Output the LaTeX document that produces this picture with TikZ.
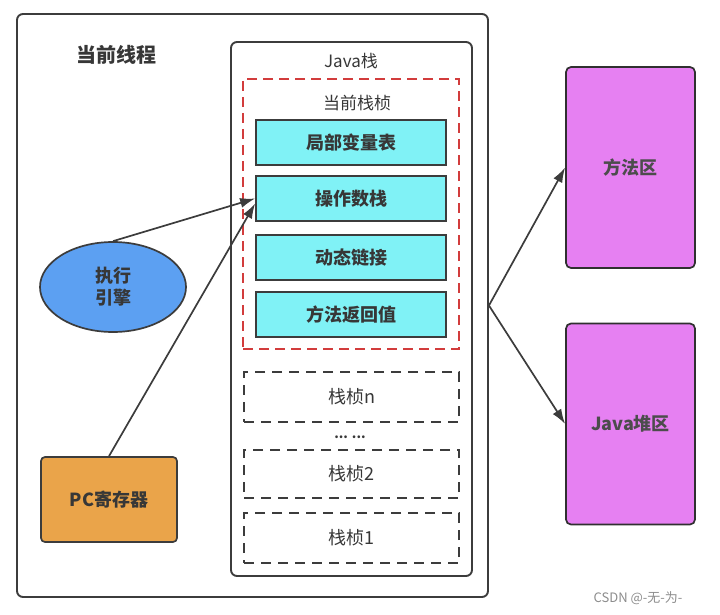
\documentclass[tikz,border=0pt]{standalone}
\usepackage{fontspec}
\setmainfont{Noto Sans CJK SC}
\usetikzlibrary{shapes.geometric,arrows.meta}
\definecolor{edge}{RGB}{60,60,60}
\definecolor{txt}{RGB}{55,55,55}
\definecolor{cyanfill}{RGB}{128,242,246}
\definecolor{bluefill}{RGB}{92,160,242}
\definecolor{orangefill}{RGB}{234,164,74}
\definecolor{magfill}{RGB}{230,128,242}
\definecolor{reddash}{RGB}{210,60,60}
\tikzset{
  frame/.style={draw=edge, line width=1.9pt, rounded corners=6pt, inner sep=0pt},
  slot/.style={draw=edge, line width=1.7pt, fill=cyanfill, minimum width=190pt, minimum height=45pt, inner sep=0pt, font=\fontsize{18}{21}\selectfont\bfseries, text=txt},
  ghost/.style={draw=edge, line width=1.8pt, dash pattern=on 10pt off 7pt, minimum width=215pt, minimum height=50pt, inner sep=0pt, font=\fontsize{18}{21}\selectfont, text=txt},
  area/.style={draw=edge!80!black, line width=1.7pt, fill=magfill, rounded corners=5pt, minimum width=129pt, minimum height=201pt, inner sep=0pt, font=\fontsize{18}{21}\selectfont\bfseries, text=black!70},
  lbl/.style={inner sep=0pt, text=txt},
  arr/.style={draw=edge, line width=1.7pt, -{Latex[length=15pt,width=10pt]}}
}
\begin{document}
\begin{tikzpicture}[x=1pt,y=-1pt]
\useasboundingbox (0,0) rectangle (720,615);
\node[frame, minimum width=471pt, minimum height=583pt] (thread) at (252.5,305.5) {};
\node[lbl, font=\fontsize{20}{23}\selectfont\bfseries] (threadlbl) at (116,55) {当前线程};
\node[frame, minimum width=241pt, minimum height=534pt] (jstack) at (351.5,309) {};
\node[lbl, font=\fontsize{17}{20}\selectfont] (jstacklbl) at (351,61) {Java栈};
\node[draw=reddash, line width=1.8pt, dash pattern=on 10pt off 6pt, minimum width=216pt, minimum height=270pt, inner sep=0pt] (cur) at (351,214) {};
\node[lbl, font=\fontsize{17}{20}\selectfont] (curlbl) at (357,103) {当前栈桢};
\node[slot] (locals) at (351,142.5) {局部变量表};
\node[slot] (opstack) at (351,198.5) {操作数栈};
\node[slot] (dynlink) at (351,257.5) {动态链接};
\node[slot] (retval) at (351,314.5) {方法返回值};
\node[ghost] (fn) at (351.5,397) {栈桢n};
\node[lbl, font=\fontsize{13}{16}\selectfont\bfseries] (dots) at (350,437) {... ...};
\node[ghost, minimum height=48pt] (f2) at (351.5,474) {栈桢2};
\node[ghost] (f1) at (351.5,538) {栈桢1};
\node[ellipse, draw=edge, line width=1.7pt, fill=bluefill, minimum width=146pt, minimum height=90pt, inner sep=0pt, align=center, font=\fontsize{18}{22}\selectfont\bfseries, text=txt] (engine) at (113,287) {执行\\引擎};
\node[draw=edge, line width=1.7pt, fill=orangefill, rounded corners=4pt, minimum width=136pt, minimum height=85pt, inner sep=0pt, font=\fontsize{18}{21}\selectfont\bfseries, text=txt] (pc) at (109,499.5) {PC寄存器};
\node[area] (method) at (630.5,167.5) {方法区};
\node[area] (heap) at (630.5,424) {Java堆区};
\node[lbl, font=\fontsize{13}{15}\selectfont, text=black!45] (mark) at (638,598) {CSDN @-无-为-};
\draw[arr] (engine.north) -- (opstack.west);
\draw[arr] (pc.north) -- ([yshift=-5pt]opstack.west);
\draw[arr] (thread.east) -- (method.west);
\draw[arr] (thread.east) -- (heap.west);
\end{tikzpicture}
\end{document}
